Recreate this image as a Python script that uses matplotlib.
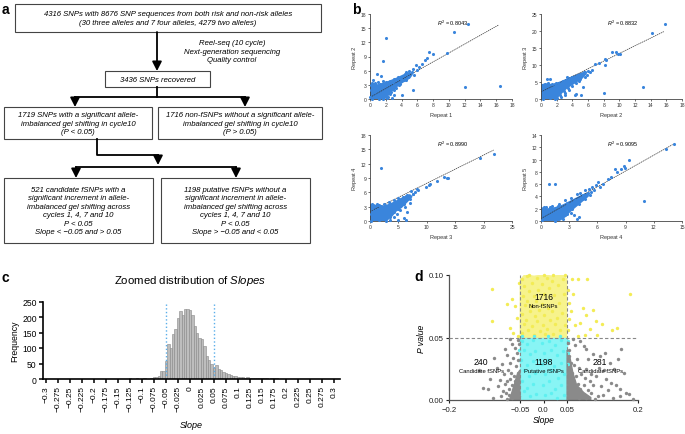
import numpy as np
import matplotlib
matplotlib.use('Agg')
import matplotlib.pyplot as plt
from matplotlib.patches import Rectangle, Polygon

plt.rcParams['font.family'] = ['Liberation Sans', 'DejaVu Sans']
plt.rcParams['mathtext.fontset'] = 'custom'
plt.rcParams['mathtext.rm'] = 'Liberation Sans'
plt.rcParams['mathtext.it'] = 'Liberation Sans:italic'

# ---- data -------------------------------------------------------------
flow_top = "4316 SNPs with 8676 SNP sequences from both risk and non-risk alleles\n(30 three alleles and 7 four alleles, 4279 two alleles)"
flow_side = "Reel-seq (10 cycle)\nNext-generation sequencing\nQuality control"
flow_mid = "3436 SNPs recovered"
flow_sig = "1719 SNPs with a significant allele-\nimbalanced gel shifting in cycle10\n(P < 0.05)"
flow_nonsig = "1716 non-fSNPs without a significant allele-\nimbalanced gel shifting in cycle10\n(P > 0.05)"
flow_cand = ("521 candidate fSNPs with a\nsignificant increment in allele-\nimbalanced gel shifting across\n"
             "cycles 1, 4, 7 and 10\nP < 0.05\nSlope < \u22120.05 and > 0.05")
flow_put = ("1198 putative fSNPs without a\nsignificant increment in allele-\nimbalanced gel shifting across\n"
            "cycles 1, 4, 7 and 10\nP < 0.05\nSlope > \u22120.05 and < 0.05")

# panel b: repeat correlation, outlying points + outline of the dense core
rep_names = ["Repeat 1", "Repeat 2", "Repeat 3", "Repeat 4", "Repeat 5"]
r2_values = ["0.8043", "0.8832", "0.8990", "0.9095"]
fit_slope = [0.94, 1.13, 0.59, 0.86]
fit_icept = [0.35, 2.1, 2.0, 0.4]
fit_xmax = [16.3, 15.7, 21.8, 14.0]
b1_pts = [(2.0,13.0),(1.7,8.0),(0.9,5.3),(1.4,4.9),(0.4,4.0),(0.15,3.0),(0.3,2.6),(10.7,14.2),(12.4,15.8),
          (12.0,2.5),(16.5,2.7),(7.5,10.0),(8.0,9.6),(9.7,9.7),(7.0,8.3),(7.2,8.6),(6.6,7.5),(5.8,7.2),
          (6.2,6.8),(5.4,6.3),(5.0,6.0),(4.6,5.8),(5.5,1.9),(4.0,0.8),(3.1,0.9),(2.8,0.3),(2.2,0.2),
          (3.5,4.6),(3.0,4.2),(2.5,3.9),(2.0,3.5),(1.6,3.8),(1.0,3.5),(0.6,3.4),(0.2,3.3),(3.8,3.2),
          (4.3,4.0),(4.8,4.7),(2.6,1.4),(3.3,2.3),(1.9,0.6),(1.0,0.5),(0.5,1.5),(0.05,0.5),(0.1,2.0),
          (0.8,2.8),(1.3,3.1),(2.2,3.2),(2.9,3.6),(3.9,4.3),(4.4,5.4),(5.3,5.7),(5.6,5.0),(4.6,4.1),
          (3.7,3.0),(3.0,2.0),(2.5,1.0),(2.3,0.5),(1.7,0.1),(0.3,0.05),(5.9,6.2),(1.2,0.0)]
b1_core = [(0,0),(0,3.0),(0.4,3.1),(1.0,2.9),(1.6,3.2),(2.5,3.7),(3.5,4.4),(4.5,5.2),(5.0,5.5),(5.3,5.2),
           (5.0,4.5),(4.0,3.5),(3.2,2.5),(2.7,1.7),(2.3,0.9),(2.0,0.3),(1.5,0)]
b2_pts = [(15.8,22.0),(14.2,19.3),(9.0,13.8),(9.6,13.9),(9.8,13.2),(10.1,13.3),(8.2,11.8),(8.3,11.4),
          (7.4,10.6),(6.9,10.4),(8.2,10.0),(13.0,3.4),(8.0,1.7),(5.4,3.4),(4.5,1.5),(5.1,1.3),(4.3,1.1),
          (0.8,6.0),(1.2,6.0),(2.3,4.8),(3.0,1.3),(6.0,8.2),(6.3,8.0),(5.6,7.8),(5.2,7.5),(4.7,7.2),
          (3.7,6.1),(3.2,5.7),(2.8,5.2),(1.9,4.7),(1.4,4.4),(0.5,4.3),(0.2,3.5),(3.6,2.6),(3.0,1.9),
          (2.5,0.6),(2.0,0.3),(1.2,0.2),(4.0,3.7),(4.8,5.4),(5.6,6.6),
          (0.9,4.6),(1.8,4.3),(2.9,5.3),(3.9,6.4),(4.9,7.2),(5.5,7.9),(5.9,7.1),(5.0,5.9),(4.5,4.7),
          (3.5,3.2),(2.9,2.3),(2.4,1.2),(1.8,0.1),(0.3,0.1),(6.5,8.6),(3.3,6.4)]
b2_core = [(0,0),(0,4.0),(0.5,4.3),(1.5,4.1),(2.5,4.9),(3.5,5.9),(4.5,6.9),(5.3,7.6),(5.7,7.4),(5.2,6.2),
           (4.2,4.7),(3.3,3.4),(2.7,2.1),(2.2,0.9),(1.6,0)]
b3_pts = [(21.9,14.1),(19.3,13.1),(2.0,11.0),(13.5,9.0),(13.0,9.3),(13.8,8.9),(11.8,8.4),(10.5,7.8),
          (10.3,7.5),(9.8,7.1),(8.5,6.5),(7.2,6.2),(6.6,1.8),(5.0,0.3),(6.0,0.6),(6.3,0.2),(2.5,0.4),
          (8.0,6.0),(7.6,5.7),(6.6,5.5),(5.8,5.1),(5.0,4.9),(4.2,4.3),(3.3,3.9),(2.4,3.6),(1.2,3.6),
          (0.6,3.4),(0.3,2.8),(4.8,1.5),(4.2,0.8),(3.5,0.3),(2.5,1.2),(1.6,0.2),(7.0,3.8),(6.2,3.0),
          (5.2,2.4),(0.1,1.5),(1.9,3.2),
          (0.4,3.6),(1.5,3.4),(2.7,3.3),(3.7,3.6),(4.6,4.0),(5.5,4.6),(6.4,5.2),(7.5,5.7),(7.0,4.7),
          (6.0,3.6),(5.0,2.6),(4.3,1.8),(3.6,0.8),(2.8,0.1),(0.2,0.1),(8.3,6.6)]
b3_core = [(0,0),(0,3.3),(1.0,3.2),(2.0,2.9),(3.0,3.2),(4.0,3.7),(5.0,4.3),(6.0,4.9),(7.0,5.4),(7.3,5.1),
           (6.5,4.1),(5.5,2.9),(4.5,2.1),(3.8,1.1),(3.0,0.3),(2.5,0)]
b4_pts = [(14.2,12.6),(13.3,11.8),(9.4,9.9),(8.8,8.9),(8.5,8.5),(8.9,8.6),(7.9,8.5),(8.1,8.0),(7.4,7.1),
          (7.1,6.9),(6.6,6.0),(11.0,3.3),(0.8,6.0),(1.5,6.0),(3.2,1.3),(3.5,0.9),(3.8,0.3),(4.0,0.6),
          (6.1,6.3),(5.8,5.8),(5.4,5.6),(5.1,5.2),(4.7,5.0),(4.2,4.6),(3.8,4.4),(3.2,3.8),(2.6,3.4),
          (1.9,2.7),(1.2,2.4),(0.5,2.3),(0.2,1.8),(2.9,2.0),(2.4,1.3),(2.1,0.6),(1.2,0.3),(4.4,3.6),
          (3.6,2.7),(5.3,4.8),(6.3,5.5),(2.5,0.9),
          (0.3,2.3),(1.0,2.2),(1.8,2.4),(2.8,2.9),(3.6,3.5),(4.5,4.3),(5.0,4.6),(5.2,4.3),(4.7,3.6),
          (4.0,2.8),(3.3,2.0),(2.8,1.1),(2.3,0.4),(1.5,0.05),(0.1,0.1),(5.6,5.1)]
b4_core = [(0,0),(0,2.1),(0.7,1.9),(1.5,2.1),(2.3,2.5),(3.2,3.2),(4.2,4.0),(4.8,4.4),(5.0,4.1),(4.3,3.2),
           (3.6,2.3),(3.0,1.5),(2.5,0.7),(2.0,0.2),(1.7,0)]

# panel c: histogram of slopes (bin centres, counts)
slope_bins = [-0.125,-0.12,-0.115,-0.11,-0.105,-0.1,-0.095,-0.09,-0.085,-0.08,-0.075,-0.07,-0.065,-0.06,
              -0.055,-0.05,-0.045,-0.04,-0.035,-0.03,-0.025,-0.02,-0.015,-0.01,-0.005,0.0,0.005,0.01,
              0.015,0.02,0.025,0.03,0.035,0.04,0.045,0.05,0.055,0.06,0.065,0.07,0.075,0.08,0.085,0.09,
              0.095,0.1,0.105,0.11,0.115,0.12,0.125,0.13,0.135,0.14,0.145,0.15,0.155,0.16,0.165,0.17,
              0.175,0.18]
slope_counts = [2,0,0,3,0,0,3,0,0,2,5,8,10,25,27,57,113,101,145,162,196,220,208,225,227,222,207,172,
                150,133,128,105,75,60,50,37,45,33,28,24,20,15,13,10,10,8,7,6,4,6,3,2,3,2,3,4,2,3,1,2,3,2]

# panel d: slope vs P value
nonf_pts = [(-0.11,0.089),(-0.078,0.077),(-0.067,0.081),(-0.06,0.075),(-0.11,0.063),(-0.07,0.058),
            (0.06,0.097),(0.074,0.097),(0.093,0.097),(0.183,0.085),(0.084,0.074),(0.105,0.072),
            (0.091,0.068),(0.112,0.063),(0.123,0.061),(0.155,0.058),(0.055,0.065),(0.066,0.060),
            (0.055,0.078),(0.052,0.088),(0.113,0.052),(0.144,0.056),(0.088,0.052),(0.074,0.051),
            (-0.064,0.054),(-0.053,0.051),(0.062,0.085),(0.078,0.062),(0.098,0.057),(-0.056,0.066),
            (0.052,0.056),(0.058,0.071),(-0.052,0.094),(0.045,0.1),(-0.03,0.1),(0.0,0.1),(0.02,0.1),
            (-0.046,0.097),(-0.041,0.091),(-0.044,0.083),(-0.039,0.076),(-0.046,0.069),(-0.042,0.061),
            (-0.045,0.054),(-0.035,0.099),(-0.031,0.087),(-0.034,0.079),(-0.029,0.071),(-0.036,0.064),
            (-0.032,0.056),(-0.025,0.094),(-0.021,0.083),(-0.026,0.075),(-0.019,0.067),(-0.024,0.059),
            (-0.02,0.052),(-0.014,0.098),(-0.011,0.088),(-0.015,0.079),(-0.009,0.072),(-0.013,0.063),
            (-0.008,0.055),(-0.003,0.093),(0.001,0.085),(-0.004,0.077),(0.002,0.068),(-0.002,0.06),
            (0.004,0.053),(0.008,0.098),(0.012,0.09),(0.009,0.074),(0.013,0.064),(0.007,0.057),
            (0.019,0.095),(0.022,0.084),(0.018,0.071),(0.024,0.061),(0.02,0.053),(0.03,0.092),
            (0.033,0.078),(0.028,0.066),(0.035,0.056),(0.041,0.097),(0.044,0.085),(0.04,0.07),(0.046,0.06)]
nonf_core = [(-0.049,0.05),(-0.049,0.096),(-0.04,0.1),(-0.02,0.099),(0.0,0.1),(0.02,0.099),(0.04,0.1),
             (0.049,0.097),(0.049,0.05)]
put_core = [(-0.05,0.0),(-0.05,0.05),(0.05,0.05),(0.05,0.0)]
put_pts = [(-0.052,0.048),(-0.051,0.04),(-0.052,0.032),(0.051,0.047),(0.052,0.038),(0.051,0.029),
           (-0.045,0.051),(-0.02,0.051),(0.01,0.051),(0.035,0.051),
           (-0.046,0.047),(-0.041,0.04),(-0.047,0.032),(-0.042,0.024),(-0.046,0.015),(-0.041,0.007),
           (-0.034,0.045),(-0.029,0.037),(-0.035,0.028),(-0.03,0.019),(-0.034,0.01),(-0.028,0.003),
           (-0.022,0.048),(-0.018,0.039),(-0.023,0.031),(-0.017,0.022),(-0.022,0.013),(-0.016,0.005),
           (-0.004,0.046),(0.002,0.038),(-0.003,0.029),(0.003,0.021),(-0.002,0.012),(0.004,0.004),
           (0.011,0.047),(0.015,0.04),(0.01,0.032),(0.016,0.024),(0.011,0.015),(0.016,0.006),
           (0.024,0.044),(0.029,0.036),(0.023,0.027),(0.03,0.018),(0.025,0.009),(0.029,0.002),
           (0.037,0.048),(0.042,0.039),(0.036,0.03),(0.043,0.021),(0.038,0.012),(0.044,0.004)]
cand_pts = [(-0.127,0.010),(-0.117,0.009),(-0.1075,0.002),(-0.097,0.011),(-0.086,0.007),(-0.081,0.013),
            (-0.077,0.015),(-0.071,0.017),(-0.099,0.026),(-0.071,0.030),(-0.065,0.034),(-0.057,0.038),
            (-0.060,0.042),(-0.071,0.049),(-0.052,0.045),(-0.088,0.029),(-0.083,0.021),(-0.075,0.024),
            (-0.068,0.022),(-0.063,0.019),(-0.060,0.015),(-0.058,0.012),(-0.056,0.009),(-0.054,0.006),
            (-0.052,0.003),(-0.062,0.005),(-0.066,0.002),(-0.072,0.004),(-0.078,0.001),(-0.090,0.003),
            (-0.058,0.027),(-0.055,0.022),(-0.053,0.017),(-0.062,0.010),(-0.067,0.012),(-0.074,0.009),
            (-0.080,0.006),(-0.055,0.032),(-0.054,0.048),(-0.066,0.045),(-0.136,0.024),(-0.114,0.017),
            (-0.092,0.016),(-0.105,0.034),(-0.078,0.036),(-0.082,0.041),
            (0.091,0.041),(0.105,0.037),(0.095,0.033),(0.120,0.035),(0.130,0.038),(0.165,0.041),
            (0.091,0.025),(0.101,0.021),(0.112,0.019),(0.133,0.017),(0.143,0.014),(0.154,0.012),
            (0.161,0.009),(0.175,0.006),(0.182,0.005),(0.189,0.001),(0.161,0.003),(0.147,0.002),
            (0.136,0.008),(0.122,0.011),(0.105,0.012),(0.098,0.015),(0.087,0.018),(0.126,0.004),
            (0.115,0.003),(0.101,0.006),(0.052,0.046),(0.055,0.040),(0.053,0.035),(0.058,0.030),
            (0.054,0.026),(0.060,0.022),(0.056,0.018),(0.063,0.016),(0.058,0.012),(0.066,0.010),
            (0.061,0.007),(0.070,0.005),(0.057,0.004),(0.075,0.002),(0.082,0.004),(0.090,0.002),
            (0.068,0.019),(0.072,0.013),(0.077,0.009),(0.064,0.028),(0.070,0.033),(0.075,0.026),
            (0.080,0.021),(0.085,0.012),(0.094,0.008),(0.108,0.001),(0.066,0.044),(0.078,0.047),
            (0.085,0.043),(0.140,0.030),(0.150,0.025),(0.170,0.022),(0.158,0.033),(0.118,0.026),
            (0.128,0.024),(0.062,0.049)]
cand_left_core = [(-0.072,0.0),(-0.062,0.012),(-0.056,0.02),(-0.05,0.024),(-0.05,0.0)]
cand_right_core = [(0.05,0.0),(0.05,0.04),(0.056,0.034),(0.062,0.022),(0.07,0.012),(0.085,0.006),
                   (0.1,0.002),(0.1,0.0)]
group_counts = ["1716", "240", "1198", "281"]
group_names = ["Non-fSNPs", "Candidate fSNPs", "Putative fSNPs", "Candidate fSNPs"]

# ---- layout helpers -------------------------------------------------------
W, H = 685, 435
fig = plt.figure(figsize=(6.85, 4.35), dpi=100)

def px_axes(x0, y0, x1, y1):
    return fig.add_axes([x0 / W, 1 - y1 / H, (x1 - x0) / W, (y1 - y0) / H])

ov = fig.add_axes([0, 0, 1, 1])
ov.set_xlim(0, W)
ov.set_ylim(H, 0)
ov.axis('off')

for lab, (x, y) in zip("abcd", [(2, 3), (352, 3), (2, 271), (414, 270)]):
    ov.text(x, y, lab, fontsize=10, fontweight='bold', va='top', ha='left')

# ---- panel a: flow chart ---------------------------------------------------
fs = 5.6
def flow_box(x0, y0, x1, y1, txt):
    ov.add_patch(Rectangle((x0, y0), x1 - x0, y1 - y0, fill=False, ec='#444444', lw=0.8))
    ov.text((x0 + x1) / 2, (y0 + y1) / 2, txt, ha='center', va='center', fontsize=fs,
            style='italic', linespacing=1.3)

def arrow(x, y0, y1):
    ov.annotate('', xy=(x, y1), xytext=(x, y0),
                arrowprops=dict(arrowstyle='-|>,head_length=0.55,head_width=0.28', lw=1.3, color='k',
                                shrinkA=0, shrinkB=0))

flow_box(15, 5, 321, 33, flow_top)
ov.text(232, 52, flow_side, ha='center', va='center', fontsize=fs, style='italic', linespacing=1.3)
arrow(157, 33, 72)
flow_box(105, 72, 210, 88, flow_mid)
ov.plot([157, 157], [88, 98], color='k', lw=1.3)
ov.plot([75, 245], [98, 98], color='k', lw=1.3)
arrow(75, 98, 108)
arrow(245, 98, 108)
flow_box(4, 108, 152, 140, flow_sig)
flow_box(158, 108, 322, 140, flow_nonsig)
ov.plot([97, 97, 158], [140, 156, 156], color='k', lw=1.3)
arrow(158, 156, 166)
ov.plot([76, 236], [168, 168], color='k', lw=1.3)
arrow(76, 168, 179)
arrow(236, 168, 179)
flow_box(4, 179, 153, 244, flow_cand)
flow_box(161, 179, 310, 244, flow_put)

# ---- panel b: scatter grid -------------------------------------------------
blue = '#3a85dc'
b_specs = [
    ((370, 15, 512, 100), b1_pts, b1_core, (18, 18), np.arange(0, 19, 2), np.arange(0, 19, 3)),
    ((541, 15, 682, 100), b2_pts, b2_core, (18, 25), np.arange(0, 19, 2), np.arange(0, 26, 5)),
    ((370, 136, 512, 222), b3_pts, b3_core, (25, 18), np.arange(0, 26, 5), np.arange(0, 19, 3)),
    ((541, 136, 682, 222), b4_pts, b4_core, (15, 14), np.arange(0, 16, 3), np.arange(0, 15, 2)),
]
for i, (pos, pts, core, lims, xt, yt) in enumerate(b_specs):
    ax = px_axes(*pos)
    ax.set_xlim(0, lims[0])
    ax.set_ylim(0, lims[1])
    ax.add_patch(Polygon(core, closed=True, fc=blue, ec=blue, lw=1.5, joinstyle='round', zorder=2))
    p = np.array(pts)
    ax.scatter(p[:, 0], p[:, 1], s=5, color=blue, linewidths=0, zorder=3, clip_on=False)
    fx = np.array([0, fit_xmax[i]])
    ax.plot(fx, fit_slope[i] * fx + fit_icept[i], color='#333333', lw=0.5, ls=(0, (2, 1)), zorder=2.5)
    ax.text(0.58 * lims[0], 0.9 * lims[1], r'$R^2$ = ' + r2_values[i], fontsize=4,
            ha='center', va='center')
    ax.set_xticks(xt)
    ax.set_yticks(yt)
    ax.tick_params(labelsize=3.6, length=1.5, width=0.5, pad=1, colors='#333333')
    for s in ['top', 'right']:
        ax.spines[s].set_visible(False)
    for s in ['left', 'bottom']:
        ax.spines[s].set_linewidth(0.6)
        ax.spines[s].set_color('#444444')
    ax.set_xlabel(rep_names[i], fontsize=4, labelpad=3, color='#333333')
    ax.set_ylabel(rep_names[i + 1], fontsize=4, labelpad=3, color='#333333')
    ax.patch.set_alpha(0)

# ---- panel c: histogram --------------------------------------------------
ov.text(190, 281, r'Zoomed distribution of $\mathit{Slopes}$', fontsize=8.2, ha='center', va='center')
axc = px_axes(43, 302.5, 340, 380)
axc.bar(slope_bins, slope_counts, width=0.0046, color='#bdbdbd', edgecolor='#888888', linewidth=0.4)
axc.axvline(-0.05, color='#5aaeea', ls=':', lw=1.0, ymax=1.0)
axc.axvline(0.05, color='#5aaeea', ls=':', lw=1.0, ymax=1.0)
axc.set_xlim(-0.3 - 3 / 480, 0.3 + 6 / 480)
axc.set_ylim(0, 250)
ticks_c = np.round(np.arange(-0.3, 0.3001, 0.025), 3)
axc.set_xticks(ticks_c)
axc.set_xticklabels([('%g' % t).replace('-', '\u2212') for t in ticks_c], rotation=90, fontsize=6)
axc.set_yticks([0, 50, 100, 150, 200, 250])
axc.tick_params(axis='y', labelsize=6.2, length=3, width=1.1, pad=1.5)
axc.tick_params(axis='x', length=3, width=1.1, pad=1.5)
for s in ['top', 'right']:
    axc.spines[s].set_visible(False)
for s in ['left', 'bottom']:
    axc.spines[s].set_linewidth(1.2)
axc.set_ylabel('Frequency', fontsize=6.3, labelpad=2)
axc.set_xlabel('Slope', fontsize=6.5, style='italic', labelpad=6)
axc.patch.set_alpha(0)

# ---- panel d: volcano-like plot --------------------------------------------
yellow, cyan, grey = '#f3ec55', '#5ff0f0', '#8a8a8a'
yellow_lt, cyan_lt = '#f7f38c', '#88f5f5'
axd = px_axes(449, 276, 638, 401)
axd.set_xlim(-0.2, 0.2)
axd.set_ylim(0, 0.1)
axd.add_patch(Polygon(nonf_core, closed=True, fc=yellow_lt, ec=yellow_lt, lw=1.0, zorder=2))
axd.add_patch(Polygon(put_core, closed=True, fc=cyan_lt, ec=cyan_lt, lw=1.0, zorder=2))
axd.add_patch(Polygon(cand_left_core, closed=True, fc=grey, ec=grey, lw=1.0, zorder=2))
axd.add_patch(Polygon(cand_right_core, closed=True, fc=grey, ec=grey, lw=1.0, zorder=2))
for pts, col in [(nonf_pts, yellow), (put_pts, cyan), (cand_pts, grey)]:
    p = np.array(pts)
    axd.scatter(p[:, 0], p[:, 1], s=6, color=col, linewidths=0, zorder=3, clip_on=False)
axd.axhline(0.05, color='#888888', ls=(0, (3, 2)), lw=0.8, zorder=4)
axd.axvline(-0.05, color='#888888', ls=(0, (3, 2)), lw=0.8, zorder=4)
axd.axvline(0.05, color='#888888', ls=(0, (3, 2)), lw=0.8, zorder=4)
for (x, y), c, n in zip([(0.0, 0.083), (-0.132, 0.031), (0.0, 0.031), (0.12, 0.031)], group_counts, group_names):
    axd.text(x, y, c, fontsize=6.2, ha='center', va='center', zorder=5)
    axd.text(x, y - 0.0075, n, fontsize=4.2, ha='center', va='center', zorder=5)
axd.set_xticks([-0.2, -0.05, 0.0, 0.05, 0.2])
axd.set_xticklabels(['\u22120.2', '\u22120.05', '0.0', '0.05', '0.2'])
axd.set_yticks([0.0, 0.05, 0.1])
axd.set_yticklabels(['0.00', '0.05', '0.10'])
axd.tick_params(labelsize=5.6, length=2.5, width=0.8, pad=1.5, colors='#222222')
for s in ['top', 'right']:
    axd.spines[s].set_visible(False)
for s in ['left', 'bottom']:
    axd.spines[s].set_linewidth(0.9)
    axd.spines[s].set_color('#555555')
axd.set_xlabel('Slope', fontsize=6.2, style='italic', labelpad=2)
axd.set_ylabel('P value', fontsize=6.2, style='italic', labelpad=2)
axd.patch.set_alpha(0)

fig.savefig('out.png', dpi=100)
